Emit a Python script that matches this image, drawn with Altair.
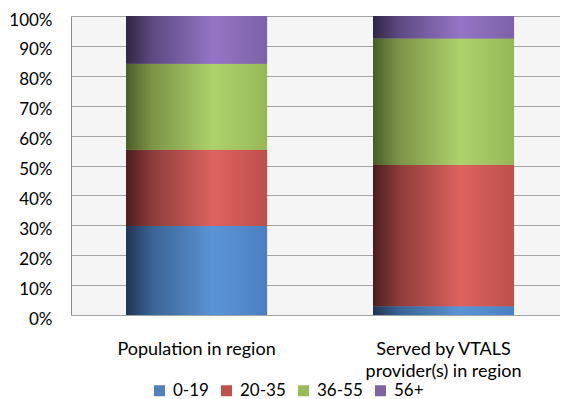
import altair as alt
import pandas as pd

categories = ["Population in region", "Served by VTALS provider(s) in region"]
age_groups = ["0-19", "20-35", "36-55", "56+"]
population = [29.8, 25.5, 28.7, 16.0]
served = [2.9, 47.3, 42.3, 7.5]
colors = ["#4f81bd", "#c0504d", "#9bbb59", "#8064a2"]
gradients = {
    "0-19": ["#1f3453", "#3a6393", "#5b94d6", "#4a80c2"],
    "20-35": ["#4a1d1d", "#8c3b39", "#de635f", "#bd4f4c"],
    "36-55": ["#4a5c2a", "#7b9346", "#aed26c", "#97b757"],
    "56+": ["#2f2542", "#5c4981", "#9575c6", "#7c62a6"],
}
y_ticks = [0, 10, 20, 30, 40, 50, 60, 70, 80, 90, 100]

rows = []
for cat, vals in zip(categories, [population, served]):
    for i, (g, v) in enumerate(zip(age_groups, vals)):
        rows.append({"category": cat, "group": g, "idx": i, "value": v})
df = pd.DataFrame(rows)

FONT = "Lato"
FS = 18

x_enc = alt.X(
    "category:N",
    sort=categories,
    title=None,
    scale=alt.Scale(paddingInner=0.429, paddingOuter=0.2045, align=0.545),
    axis=alt.Axis(
        labelAngle=0,
        domain=False,
        ticks=False,
        labelPadding=25,
        labelBaseline="top",
        labelLimit=400,
        labelFont=FONT,
        labelFontSize=FS,
        labelColor="#000000",
        labelLineHeight=22,
        labelExpr="datum.label == 'Served by VTALS provider(s) in region' ? ['Served by VTALS', 'provider(s) in region'] : datum.label",
    ),
)

y_enc = alt.Y(
    "y0:Q",
    title=None,
    scale=alt.Scale(domain=[0, 100], nice=False),
    axis=alt.Axis(
        values=y_ticks,
        labelExpr="datum.value + '%'",
        labelOverlap=False,
        ticks=False,
        labelPadding=19,
        labelOffset=4,
        labelFont=FONT,
        labelFontSize=17,
        labelColor="#000000",
        domainColor="#8c8c8c",
        gridColor="#a3a3a3",
        gridWidth=1,
    ),
)

base = alt.Chart(df).transform_stack(
    stack="value",
    groupby=["category"],
    sort=[alt.SortField("idx", order="ascending")],
    as_=["y0", "y1"],
)

legend_layer = base.mark_bar().encode(
    x=x_enc,
    y=y_enc,
    y2="y1:Q",
    color=alt.Color(
        "group:N",
        sort=age_groups,
        scale=alt.Scale(domain=age_groups, range=colors),
        legend=alt.Legend(
            title=None,
            orient="none",
            direction="horizontal",
            legendX=80,
            legendY=366,
            symbolType="square",
            symbolSize=121,
            symbolStrokeWidth=0,
            symbolOpacity=1,
            labelFont=FONT,
            labelFontSize=17,
            labelColor="#000000",
            labelOffset=5,
            columnPadding=9,
        ),
    ),
)

layers = [legend_layer]
for g in age_groups:
    stops = gradients[g]
    grad = alt.Gradient(
        gradient="linear",
        x1=0, x2=1, y1=0, y2=0,
        stops=[
            alt.GradientStop(color=stops[0], offset=0),
            alt.GradientStop(color=stops[1], offset=0.18),
            alt.GradientStop(color=stops[2], offset=0.62),
            alt.GradientStop(color=stops[3], offset=1),
        ],
    )
    layers.append(
        base.transform_filter(alt.datum.group == g)
        .mark_bar(color=grad)
        .encode(x=x_enc, y=y_enc, y2="y1:Q")
    )

chart = (
    alt.layer(*layers)
    .properties(
        width=489,
        height=299,
        autosize=alt.AutoSizeParams(type="none"),
        padding={"left": 63, "top": 8, "right": 0, "bottom": 85},
        background="#ffffff",
    )
    .configure_view(fill="#f5f5f5", stroke=None)
)

chart.save("out.html", embed_options={"renderer": "svg", "actions": False})
